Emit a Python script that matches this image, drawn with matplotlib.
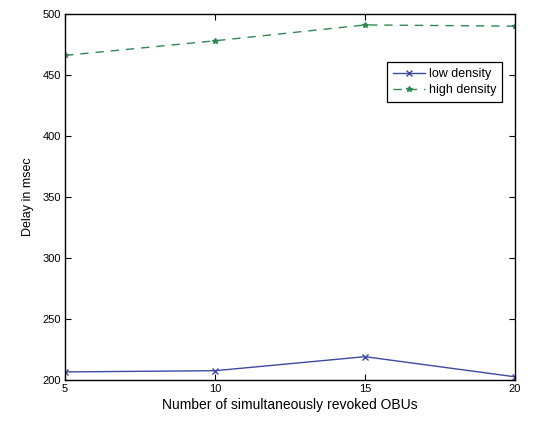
import matplotlib.pyplot as plt

plt.rcParams['font.family'] = ['Liberation Sans', 'DejaVu Sans']

# data
obus = [5, 10, 15, 20]
low_density = [206.5, 207.5, 219, 202.5]
high_density = [466, 478, 491, 490]

fig = plt.figure(figsize=(5.42, 4.23), dpi=100)
ax = fig.add_axes([0.12, 0.102, 0.83, 0.865])

ax.plot(obus, low_density, color='#3b4aa0', linestyle='-', marker='x',
        markersize=4, linewidth=1.0, label='low density')
ax.plot(obus, high_density, color='#2f8a50', linestyle='--', marker='*',
        markersize=4, linewidth=1.0, dashes=(6, 5), label='high density')

ax.set_xlim(5, 20)
ax.set_ylim(200, 500)
ax.set_xticks(obus)
ax.set_yticks([200, 250, 300, 350, 400, 450, 500])
ax.tick_params(direction='in', top=True, right=True, labelsize=8, length=4, pad=3)
for s in ax.spines.values():
    s.set_linewidth(1.0)

ax.set_xlabel('Number of simultaneously revoked OBUs', fontsize=10, labelpad=3)
ax.set_ylabel('Delay in msec', fontsize=9, labelpad=6)

leg = ax.legend(loc='upper right', bbox_to_anchor=(0.985, 0.885), fontsize=9,
                fancybox=False, edgecolor='black', framealpha=1,
                handlelength=2.6, borderpad=0.45, labelspacing=0.35, handletextpad=0.3)
leg.get_frame().set_linewidth(0.9)

plt.savefig('out.png', dpi=100)
